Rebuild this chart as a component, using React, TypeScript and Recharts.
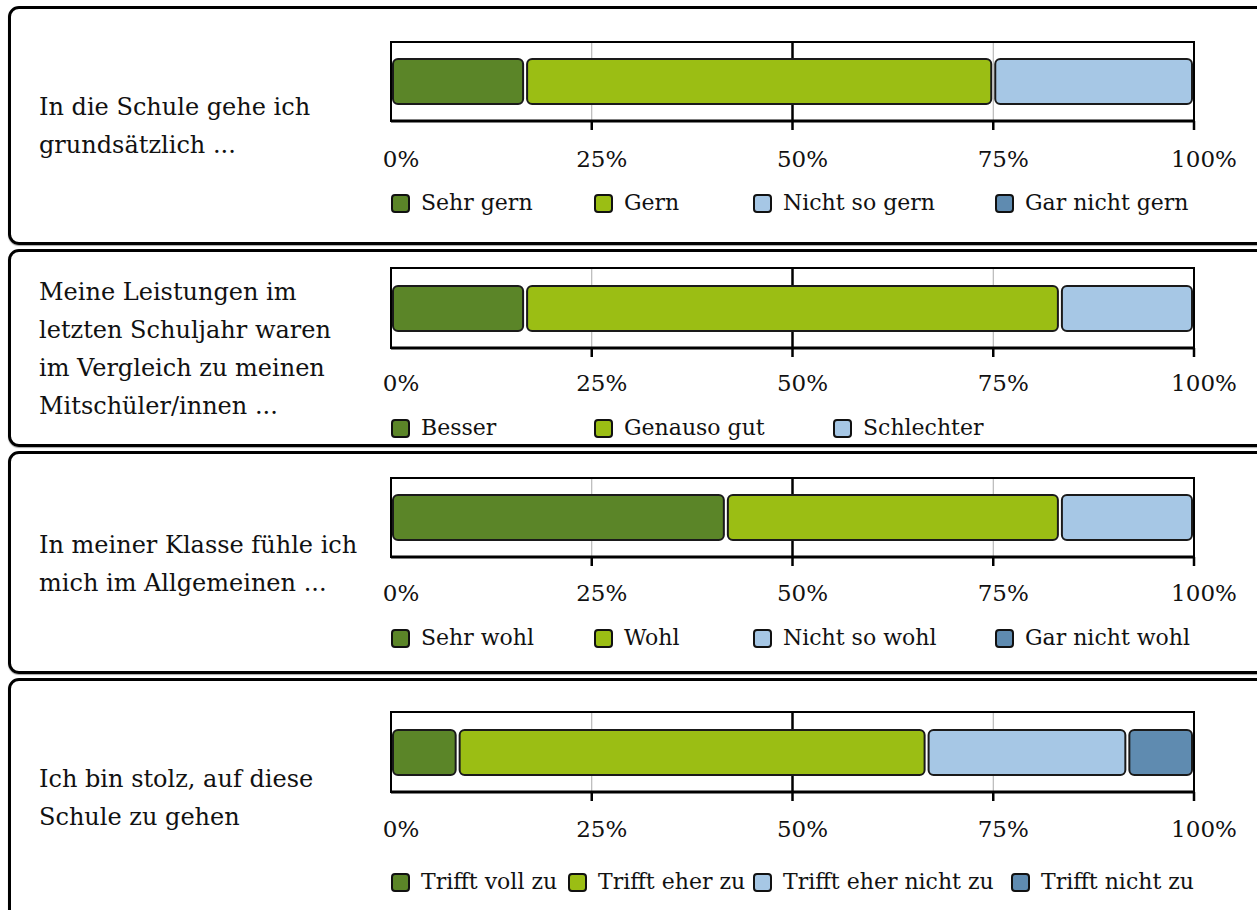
import React from 'react';
import { BarChart, Bar, XAxis, YAxis, CartesianGrid, ReferenceArea, Legend } from 'recharts';

// ---------- data ----------
const tickValues = [0, 25, 50, 75, 100];

const question1 = ['In die Schule gehe ich', 'grundsätzlich ...'];
const names1 = ['Sehr gern', 'Gern', 'Nicht so gern', 'Gar nicht gern'];
const values1 = [16.7, 58.3, 25.0, 0];

const question2 = ['Meine Leistungen im', 'letzten Schuljahr waren', 'im Vergleich zu meinen', 'Mitschüler/innen ...'];
const names2 = ['Besser', 'Genauso gut', 'Schlechter'];
const values2 = [16.7, 66.6, 16.7];

const question3 = ['In meiner Klasse fühle ich', 'mich im Allgemeinen ...'];
const names3 = ['Sehr wohl', 'Wohl', 'Nicht so wohl', 'Gar nicht wohl'];
const values3 = [41.7, 41.6, 16.7, 0];

const question4 = ['Ich bin stolz, auf diese', 'Schule zu gehen'];
const names4 = ['Trifft voll zu', 'Trifft eher zu', 'Trifft eher nicht zu', 'Trifft nicht zu'];
const values4 = [8.3, 58.4, 25.0, 8.3];

// ---------- styles / layout ----------
const COLORS = ['#5b8528', '#9bbe14', '#a6c7e5', '#5f8bb0'];
const FONT = '"DejaVu Serif", serif';
const CHART_LEFT = 370;
const CHART_W = 884;
const M_TOP = 10;
const M_LEFT = 21;
const M_RIGHT = 60;

const layouts = [
  { boxTop: 6, boxH: 239, plotTop: 42, plotH: 79, textTop: 88, tickOff: 37, legendOff: 82, legendX: [391, 594, 753, 995] },
  { boxTop: 249, boxH: 198, plotTop: 268, plotH: 80, textTop: 273, tickOff: 34, legendOff: 80, legendX: [391, 594, 833] },
  { boxTop: 451, boxH: 223, plotTop: 478, plotH: 79, textTop: 526, tickOff: 35, legendOff: 81, legendX: [391, 594, 753, 995] },
  { boxTop: 678, boxH: 260, plotTop: 712, plotH: 80, textTop: 760, tickOff: 36, legendOff: 90, legendX: [391, 568, 753, 1011] },
];

const panels = [
  { question: question1, names: names1, values: values1 },
  { question: question2, names: names2, values: values2 },
  { question: question3, names: names3, values: values3 },
  { question: question4, names: names4, values: values4 },
];

const SegmentShape = (props: any) => {
  const { x, y, width, height, fill } = props;
  if (!width || width < 1) return <g />;
  return (
    <rect x={x + 2} y={y} width={Math.max(width - 4, 0)} height={height} rx={5} ry={5}
      fill={fill} stroke="#1a1a1a" strokeWidth={2} />
  );
};

const gridLine = (props: any) => {
  const { x1, y1, x2, y2, index } = props;
  const k = `g-${index}`;
  if (index === 2) return <line key={k} x1={x1} y1={y1} x2={x2} y2={y2} stroke="#000" strokeWidth={2.5} />;
  if (index === 1 || index === 3) return <line key={k} x1={x1} y1={y1} x2={x2} y2={y2} stroke="#aaaaaa" strokeWidth={1} />;
  return <g key={k} />;
};

const makeTick = (tickOff: number) => (props: any) => {
  const { x, y, payload } = props;
  const v = payload.value;
  return (
    <g>
      {v !== 0 && <line x1={x} x2={x} y1={y} y2={y + 9} stroke="#000" strokeWidth={2.5} />}
      <text x={x + 10} y={y + tickOff + 1} textAnchor="middle" dominantBaseline="central"
        fontFamily={FONT} fontSize={23} fill="#111">{`${v}%`}</text>
    </g>
  );
};

const makeLegend = (names: string[], xs: number[]) => () => (
  <div style={{ position: 'relative', width: CHART_W, height: 30 }}>
    {names.map((n, i) => (
      <div key={n} style={{ position: 'absolute', left: xs[i] - CHART_LEFT, top: 0, height: 30, display: 'flex', alignItems: 'center' }}>
        <span style={{ display: 'inline-block', width: 19, height: 19, boxSizing: 'border-box', border: '2px solid #111', borderRadius: 4, background: COLORS[i] }} />
        <span style={{ marginLeft: 11, fontSize: 22, fontFamily: FONT, color: '#111', lineHeight: '30px', whiteSpace: 'nowrap' }}>{n}</span>
      </div>
    ))}
  </div>
);

const Panel = ({ idx }: { idx: number }) => {
  const p = panels[idx];
  const L = layouts[idx];
  const row: any = { q: 'q' };
  p.values.forEach((v, i) => { row[`s${i}`] = v; });
  const data = [row];
  const xAxisH = 120;
  const chartH = M_TOP + L.plotH + xAxisH;
  return (
    <>
      <div style={{ position: 'absolute', left: 8, top: L.boxTop, width: 1320, height: L.boxH, boxSizing: 'border-box', border: '3px solid #000', borderRadius: 11, boxShadow: '0 1px 1px rgba(0,0,0,0.35)' }} />
      <div style={{ position: 'absolute', left: 39, top: L.textTop, fontFamily: FONT, fontSize: 24, lineHeight: '38px', color: '#111', whiteSpace: 'nowrap' }}>
        {p.question.map((line) => <div key={line}>{line}</div>)}
      </div>
      <div style={{ position: 'absolute', left: CHART_LEFT, top: L.plotTop - M_TOP }}>
        <BarChart width={CHART_W} height={chartH} data={data} layout="vertical"
          margin={{ top: M_TOP, right: M_RIGHT, bottom: 0, left: M_LEFT }}>
          <CartesianGrid horizontal={false} vertical={gridLine} />
          <XAxis type="number" domain={[0, 100]} ticks={tickValues} allowDataOverflow
            height={xAxisH} tickSize={0} tickMargin={0} tickLine={false}
            axisLine={{ stroke: '#000', strokeWidth: 3 }} tick={makeTick(L.tickOff)} interval={0} />
          <YAxis type="category" dataKey="q" hide />
          {p.names.map((n, i) => (
            <Bar key={n} dataKey={`s${i}`} name={n} stackId="a" fill={COLORS[i]} barSize={45}
              shape={SegmentShape} isAnimationActive={false} />
          ))}
          <ReferenceArea x1={0} x2={100} fill="none" stroke="#000" strokeWidth={2} ifOverflow="visible" />
          <Legend verticalAlign="middle" align="center" layout="horizontal"
            wrapperStyle={{ top: M_TOP + L.plotH + L.legendOff - 15, left: 0, width: CHART_W, height: 30 }}
            content={makeLegend(p.names, L.legendX)} />
        </BarChart>
      </div>
    </>
  );
};

export default function App() {
  return (
    <div style={{ position: 'fixed', left: 0, top: 0, width: 1257, height: 910, overflow: 'hidden', background: '#fff' }}>
      {panels.map((_, i) => <Panel key={i} idx={i} />)}
    </div>
  );
}
